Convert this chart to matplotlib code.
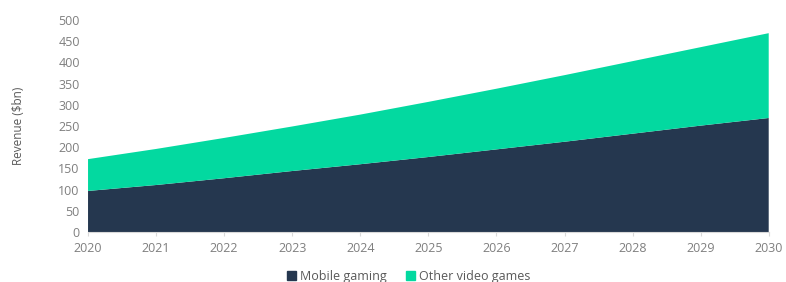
import matplotlib
matplotlib.use("Agg")
import matplotlib.pyplot as plt
from matplotlib.patches import Patch

years = [2020, 2021, 2022, 2023, 2024, 2025, 2026, 2027, 2028, 2029, 2030]
mobile = [97, 111, 127, 144, 160, 177, 195, 213, 232, 251, 269]
other = [75, 85, 95, 105, 117, 130, 143, 157, 171, 185, 200]
series_names = ["Mobile gaming", "Other video games"]
colors = ["#25374f", "#03d9a0"]

plt.rcParams['font.family'] = ['Open Sans', 'DejaVu Sans']
fig = plt.figure(figsize=(7.86, 2.82), dpi=100)
ax = fig.add_axes([0.112, 0.177, 0.866, 0.752])
ax.stackplot(years, mobile, other, colors=colors, linewidth=0)
ax.set_xlim(2020, 2030)
ax.set_ylim(0, 500)
ax.set_xticks(years)
ax.set_yticks(range(0, 501, 50))
ax.tick_params(axis='x', colors='#7f7f7f', labelsize=9, length=3, width=0.8, pad=4, color='#d9d9d9')
ax.tick_params(axis='y', colors='#7f7f7f', labelsize=9, length=0, pad=6)
for s in ['top', 'right', 'left']:
    ax.spines[s].set_visible(False)
ax.spines['bottom'].set_color('#d9d9d9')
ax.set_ylabel("Revenue ($bn)", color='#595959', fontsize=8.5, labelpad=24)
handles = [Patch(color=c, label=n) for c, n in zip(colors, series_names)]
fig.legend(handles=handles, loc='center', bbox_to_anchor=(0.52, 0.02), ncol=2, frameon=False,
           fontsize=9, labelcolor='#595959', handlelength=0.7, handleheight=0.7, handletextpad=0.3,
           columnspacing=1.6)
fig.savefig("out.png", dpi=100)
